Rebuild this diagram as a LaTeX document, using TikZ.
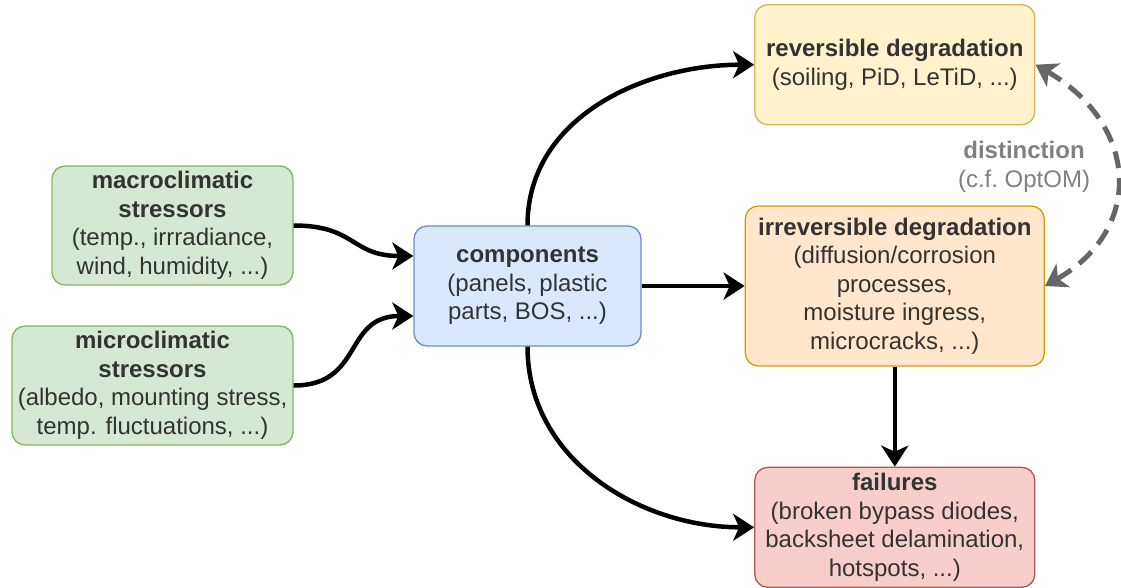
\documentclass[tikz,border=0pt]{standalone}
\usepackage{fontspec}
\setmainfont{Liberation Sans}
\usetikzlibrary{arrows.meta,positioning,calc}

\definecolor{txtgray}{HTML}{333333}
\definecolor{distgray}{HTML}{808080}
\definecolor{dashgray}{HTML}{666666}
\definecolor{grnfill}{HTML}{D5E8D4}
\definecolor{grnline}{HTML}{82B366}
\definecolor{bluefill}{HTML}{DAE8FC}
\definecolor{blueline}{HTML}{6C8EBF}
\definecolor{yelfill}{HTML}{FFF2CC}
\definecolor{yelline}{HTML}{D6B656}
\definecolor{orfill}{HTML}{FFE6CC}
\definecolor{orline}{HTML}{D79B00}
\definecolor{redfill}{HTML}{F8CECC}
\definecolor{redline}{HTML}{B85450}

\begin{document}
\begin{tikzpicture}[x=1pt, y=1pt,
    block/.style={rectangle, draw, line width=1.3pt, rounded corners=13pt, text=txtgray, align=center, inner sep=0pt, minimum height=120pt, font=\fontsize{24}{28.5}\selectfont},
    stressor/.style={block, fill=grnfill, draw=grnline, minimum height=119pt},
    line/.style={draw, line width=4.5pt, -{Stealth[length=21pt, width=27pt, inset=6pt]}},
    dashline/.style={draw=dashgray, line width=5pt, dash pattern=on 17pt off 10pt, {Stealth[length=21pt, width=27pt, inset=6pt]}-{Stealth[length=21pt, width=27pt, inset=6pt]}}
]

\useasboundingbox (0,0) rectangle (1121,-587);

\node [block, fill=bluefill, draw=blueline, minimum width=227pt] (comp) at (527.5,-286) {\textbf{components}\\(panels, plastic\\parts, BOS, ...)};
\node [block, fill=orfill, draw=orline, minimum width=299pt, minimum height=160pt, right=103pt of comp] (irr) {\textbf{irreversible degradation}\\(diffusion/corrosion\\processes,\\moisture ingress,\\microcracks, ...)};
\node [block, fill=yelfill, draw=yelline, minimum width=280pt, above=80pt of irr] (rev) {\textbf{reversible degradation}\\(soiling, PiD, LeTiD, ...)};
\node [block, fill=redfill, draw=redline, minimum width=280pt, below=100pt of irr] (fail) {\textbf{failures}\\(broken bypass diodes,\\backsheet delamination,\\hotspots, ...)};
\node [stressor, minimum width=241pt] (macro) at (172.5,-225.5) {\textbf{macroclimatic}\\\textbf{stressors}\\(temp., irrradiance,\\wind, humidity, ...)};
\node [stressor, minimum width=281pt] (micro) at (152.5,-385.5) {\textbf{microclimatic}\\\textbf{stressors}\\(albedo, mounting stress,\\temp. fluctuations, ...)};
\node [text=distgray, align=center, font=\fontsize{24}{28.5}\selectfont] (dist) at (1024,-167) {\textbf{distinction}\\(c.f.\ OptOM)};

\path [line] (macro.east) to[out=0, in=180, looseness=1.3] ($(comp.west)+(0,30)$);
\path [line] (micro.east) to[out=0, in=180, looseness=1.3] ($(comp.west)+(0,-30)$);
\path [line] (comp.north) to[out=90, in=180] (rev.west);
\path [line] (comp.south) to[out=-90, in=180] (fail.west);
\path [line] (comp) -- (irr);
\path [line] (irr) -- (fail);
\path [dashline] (irr.east) to[out=30, in=-30, looseness=1.35] (rev.east);

\end{tikzpicture}
\end{document}
